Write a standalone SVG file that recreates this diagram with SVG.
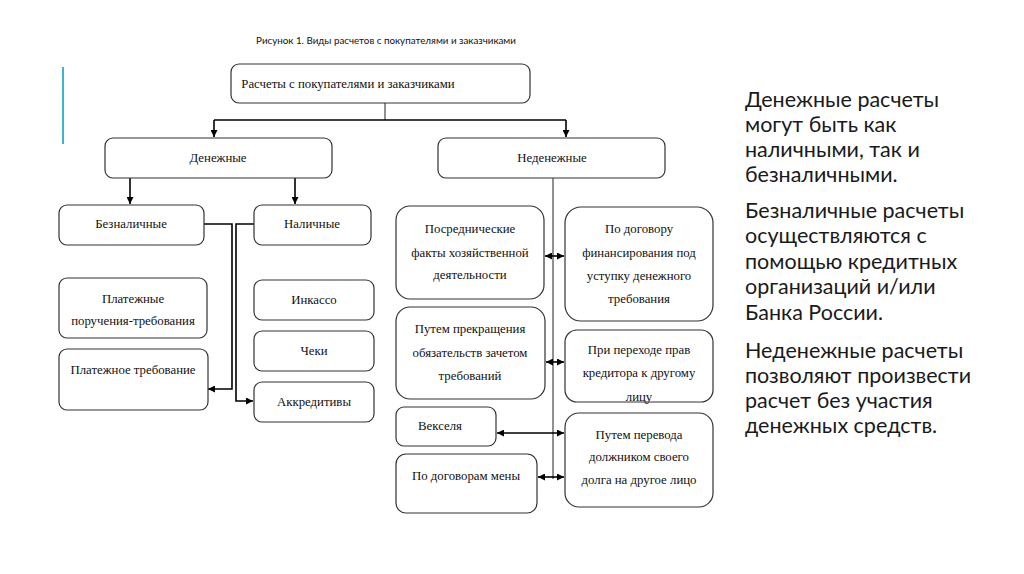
<svg xmlns="http://www.w3.org/2000/svg" width="1024" height="574" viewBox="0 0 1024 574">
<defs>
<marker id="ah" viewBox="0 0 10 10" refX="10" refY="5" markerWidth="7" markerHeight="7" markerUnits="userSpaceOnUse" orient="auto-start-reverse">
<path d="M0,0 L10,5 L0,10 z" fill="#000"/>
</marker>
<style>
.box{fill:#fff;stroke:#333;stroke-width:1.2}
.t{font-family:"Liberation Serif","Times New Roman",serif;font-size:12.8px;fill:#111;text-anchor:middle}
.c{fill:none;stroke:#000;stroke-width:1.6}
.cs{fill:none;stroke:#222;stroke-width:1}
.side{font-family:Lato,"Open Sans",sans-serif;font-size:21.5px;fill:#1a1a1a}
</style>
</defs>
<rect width="1024" height="574" fill="#fff"/>
<text x="386" y="44" font-family="Lato,'Open Sans',sans-serif" font-size="9.8" fill="#111" text-anchor="middle">Рисунок 1. Виды расчетов с покупателями и заказчиками</text>
<line x1="63" y1="67" x2="63" y2="144" stroke="#3cb4d2" stroke-width="2"/>

<g id="connectors">
<path class="cs" d="M385,103 V120"/>
<path class="c" d="M214,120 H566"/>
<path class="c" d="M214,120 V137" marker-end="url(#ah)"/>
<path class="c" d="M566,120 V137" marker-end="url(#ah)"/>
<path class="c" d="M130,178 V204" marker-end="url(#ah)"/>
<path class="c" d="M295,178 V204" marker-end="url(#ah)"/>
<path class="c" d="M204,224 H232 V389 H208" marker-end="url(#ah)"/>
<path class="c" d="M254,224 H236 V401 H253" marker-end="url(#ah)"/>
<path class="cs" d="M553,178 V479"/>
<path class="c" d="M545,256 H564" marker-start="url(#ah)" marker-end="url(#ah)"/>
<path class="c" d="M546,362 H564" marker-start="url(#ah)" marker-end="url(#ah)"/>
<path class="c" d="M497,433 H564" marker-start="url(#ah)" marker-end="url(#ah)"/>
<path class="c" d="M538,477 H564" marker-start="url(#ah)" marker-end="url(#ah)"/>
</g>

<g id="root"><rect class="box" x="231" y="64" width="299" height="39" rx="8"/><text class="t" x="348" y="88">Расчеты с покупателями и заказчиками</text></g>
<g id="money"><rect class="box" x="105" y="138" width="227" height="40" rx="8"/><text class="t" x="218" y="162">Денежные</text></g>
<g id="nonmoney"><rect class="box" x="438" y="138" width="227" height="40" rx="8"/><text class="t" x="552" y="162">Неденежные</text></g>

<g id="noncash"><rect class="box" x="59" y="205" width="145" height="40" rx="8"/><text class="t" x="131" y="228">Безналичные</text></g>
<g id="cash"><rect class="box" x="254" y="205" width="117" height="40" rx="8"/><text class="t" x="312" y="228">Наличные</text></g>

<g id="payorders"><rect class="box" x="59" y="278" width="148" height="60" rx="8"/><text class="t" x="133" y="303">Платежные</text><text class="t" x="133" y="325">поручения-требования</text></g>
<g id="paydemand"><rect class="box" x="59" y="349" width="149" height="61" rx="8"/><text class="t" x="133" y="374">Платежное требование</text></g>

<g id="inkasso"><rect class="box" x="254" y="280" width="120" height="40" rx="8"/><text class="t" x="314" y="304">Инкассо</text></g>
<g id="cheki"><rect class="box" x="254" y="331" width="120" height="40" rx="8"/><text class="t" x="314" y="355">Чеки</text></g>
<g id="akkr"><rect class="box" x="254" y="382" width="120" height="40" rx="8"/><text class="t" x="314" y="406">Аккредитивы</text></g>

<g id="posred"><rect class="box" x="396" y="206" width="148" height="93" rx="14"/><text class="t" x="470" y="233">Посреднические</text><text class="t" x="470" y="257">факты хозяйственной</text><text class="t" x="470" y="279">деятельности</text></g>
<g id="financing"><rect class="box" x="565" y="207" width="148" height="114" rx="16"/><text class="t" x="639" y="233">По договору</text><text class="t" x="639" y="257">финансирования под</text><text class="t" x="639" y="280">уступку денежного</text><text class="t" x="639" y="303">требования</text></g>

<g id="zachet"><rect class="box" x="396" y="307" width="149" height="92" rx="14"/><text class="t" x="470" y="333">Путем прекращения</text><text class="t" x="470" y="357">обязательств зачетом</text><text class="t" x="470" y="380">требований</text></g>
<g id="perehod"><rect class="box" x="565" y="330" width="148" height="72" rx="12"/><text class="t" x="639" y="354">При переходе прав</text><text class="t" x="639" y="377">кредитора к другому</text><text class="t" x="639" y="401">лицу</text></g>

<g id="veksel"><rect class="box" x="396" y="407" width="100" height="39" rx="8"/><text class="t" x="440" y="430">Векселя</text></g>
<g id="perevod"><rect class="box" x="565" y="413" width="148" height="94" rx="14"/><text class="t" x="639" y="439">Путем перевода</text><text class="t" x="639" y="461">должником своего</text><text class="t" x="639" y="484">долга на другое лицо</text></g>

<g id="mena"><rect class="box" x="396" y="454" width="141" height="59" rx="10"/><text class="t" x="466" y="480">По договорам мены</text></g>

<g id="sidetext" class="side">
<text x="745" y="107">Денежные расчеты</text>
<text x="745" y="132">могут быть как</text>
<text x="745" y="157">наличными, так и</text>
<text x="745" y="182">безналичными.</text>
<text x="745" y="218">Безналичные расчеты</text>
<text x="745" y="243">осуществляются с</text>
<text x="745" y="269">помощью кредитных</text>
<text x="745" y="294">организаций и/или</text>
<text x="745" y="320">Банка России.</text>
<text x="745" y="358">Неденежные расчеты</text>
<text x="745" y="383">позволяют произвести</text>
<text x="745" y="408">расчет без участия</text>
<text x="745" y="433">денежных средств.</text>
</g>
</svg>
